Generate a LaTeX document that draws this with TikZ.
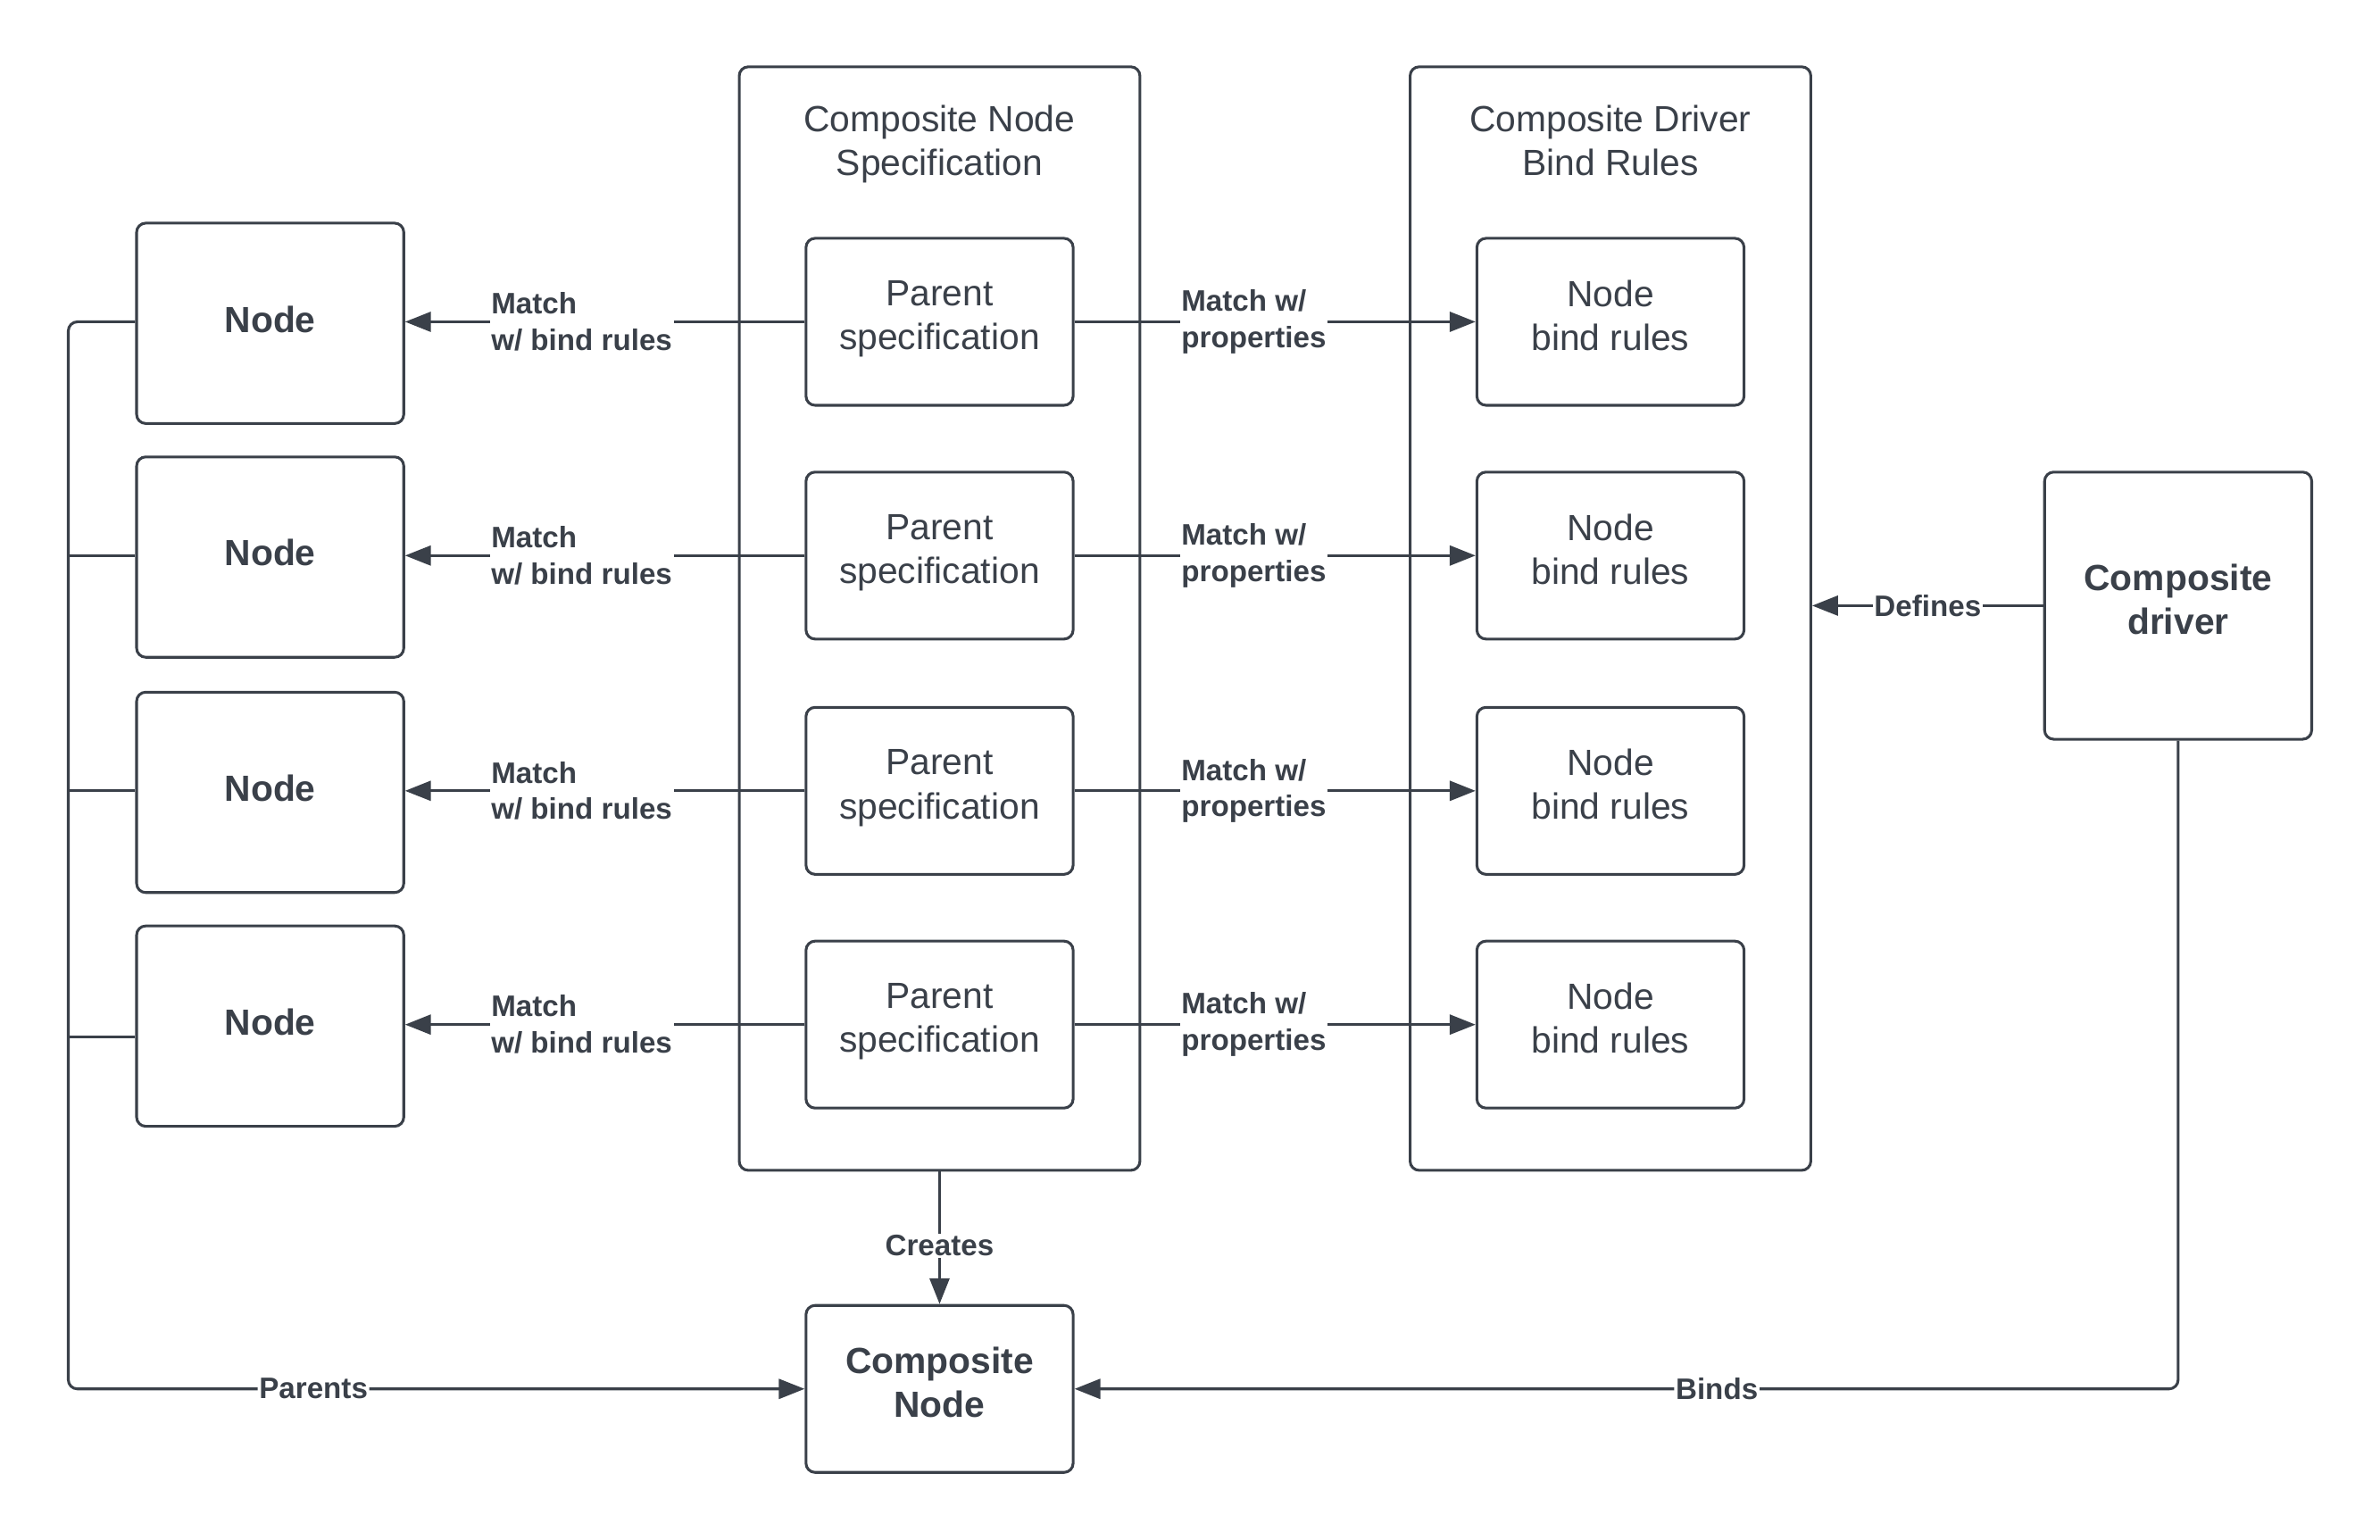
\documentclass[tikz,border=0pt]{standalone}
\usepackage{fontspec}
\setmainfont{Liberation Sans}
\usetikzlibrary{arrows.meta,positioning}
\definecolor{ink}{RGB}{58,64,73}

\begin{document}
\begin{tikzpicture}[
  x=1pt, y=-1pt,
  >={Triangle[length=17pt,width=13pt]},
  every node/.style={inner sep=0pt, text=ink},
  box/.style={draw=ink, line width=1.8pt, rounded corners=6pt, minimum width=176pt, align=center,
    font=\fontsize{24}{29}\selectfont, execute at begin node=\strut, execute at end node=\strut},
  nodebox/.style={box, minimum height=132pt, font=\bfseries\fontsize{24}{29}\selectfont},
  specbox/.style={box, minimum height=110pt},
  group/.style={draw=ink, line width=1.8pt, rounded corners=6pt, minimum width=264pt, minimum height=727pt},
  title/.style={align=center, font=\fontsize{24}{29}\selectfont, execute at begin node=\strut, execute at end node=\strut},
  conn/.style={draw=ink, line width=1.8pt},
  arr/.style={conn, ->},
  lbl/.style={fill=white, inner sep=1pt, align=left, font=\bfseries\fontsize{19.5}{24}\selectfont}
]
\useasboundingbox (0,0) rectangle (1568,1014.5);

% --- Containers ---
\node[group] (specs) at (619,407.5) {};
\node[title] (specs-title) at (619,97) {Composite Node\\Specification};
\node[group] (rules) at (1061,407.5) {};
\node[title] (rules-title) at (1061,97) {Composite Driver\\Bind Rules};

% --- Rows: node <- parent spec -> bind rules ---
\foreach \i/\y in {1/212,2/366,3/521,4/675} {
  \node[nodebox] (n\i)  at (178,\y+1)  {Node};
  \node[specbox] (ps\i) at (619,\y)  {Parent\\specification};
  \node[specbox] (br\i) at (1061,\y) {Node\\bind rules};
  \draw[arr] (ps\i.west) -- node[lbl, pos=0.558] {Match\\w/ bind rules} (n\i.east |- ps\i.west);
  \draw[arr] (ps\i.east) -- node[lbl, pos=0.447] {Match w/\\properties} (br\i.west);
}

% --- Driver and composite node ---
\node[box, minimum height=176pt, font=\bfseries\fontsize{24}{29}\selectfont] (drv) at (1435,399) {Composite\\driver};
\node[specbox, font=\bfseries\fontsize{24}{29}\selectfont] (cn) at (619,915) {Composite\\Node};

\draw[arr] (drv.west) -- node[lbl] {Defines} (drv.west -| rules.east);
\draw[arr] (specs.south) -- node[lbl, pos=0.56] {Creates} (cn.north);

% parents bus on the left
\coordinate (busb) at (45,915);
\draw[arr, rounded corners=6pt] (n1.west |- ps1.west) -| (busb) -- node[lbl, pos=0.333] {Parents} (cn.west);
\foreach \i in {2,3} {
  \draw[conn] (n\i.west |- ps\i.west) -- (busb |- ps\i.west);
}
\draw[conn] ([yshift=-8pt]ps4.west -| n4.west) -- ([yshift=-8pt]ps4.west -| busb);

% driver binds the composite node
\coordinate (bindc) at (1435,915);
\draw[arr, rounded corners=6pt] (drv.south) -- (bindc) -- node[lbl, pos=0.418] {Binds} (cn.east);

\end{tikzpicture}
\end{document}
